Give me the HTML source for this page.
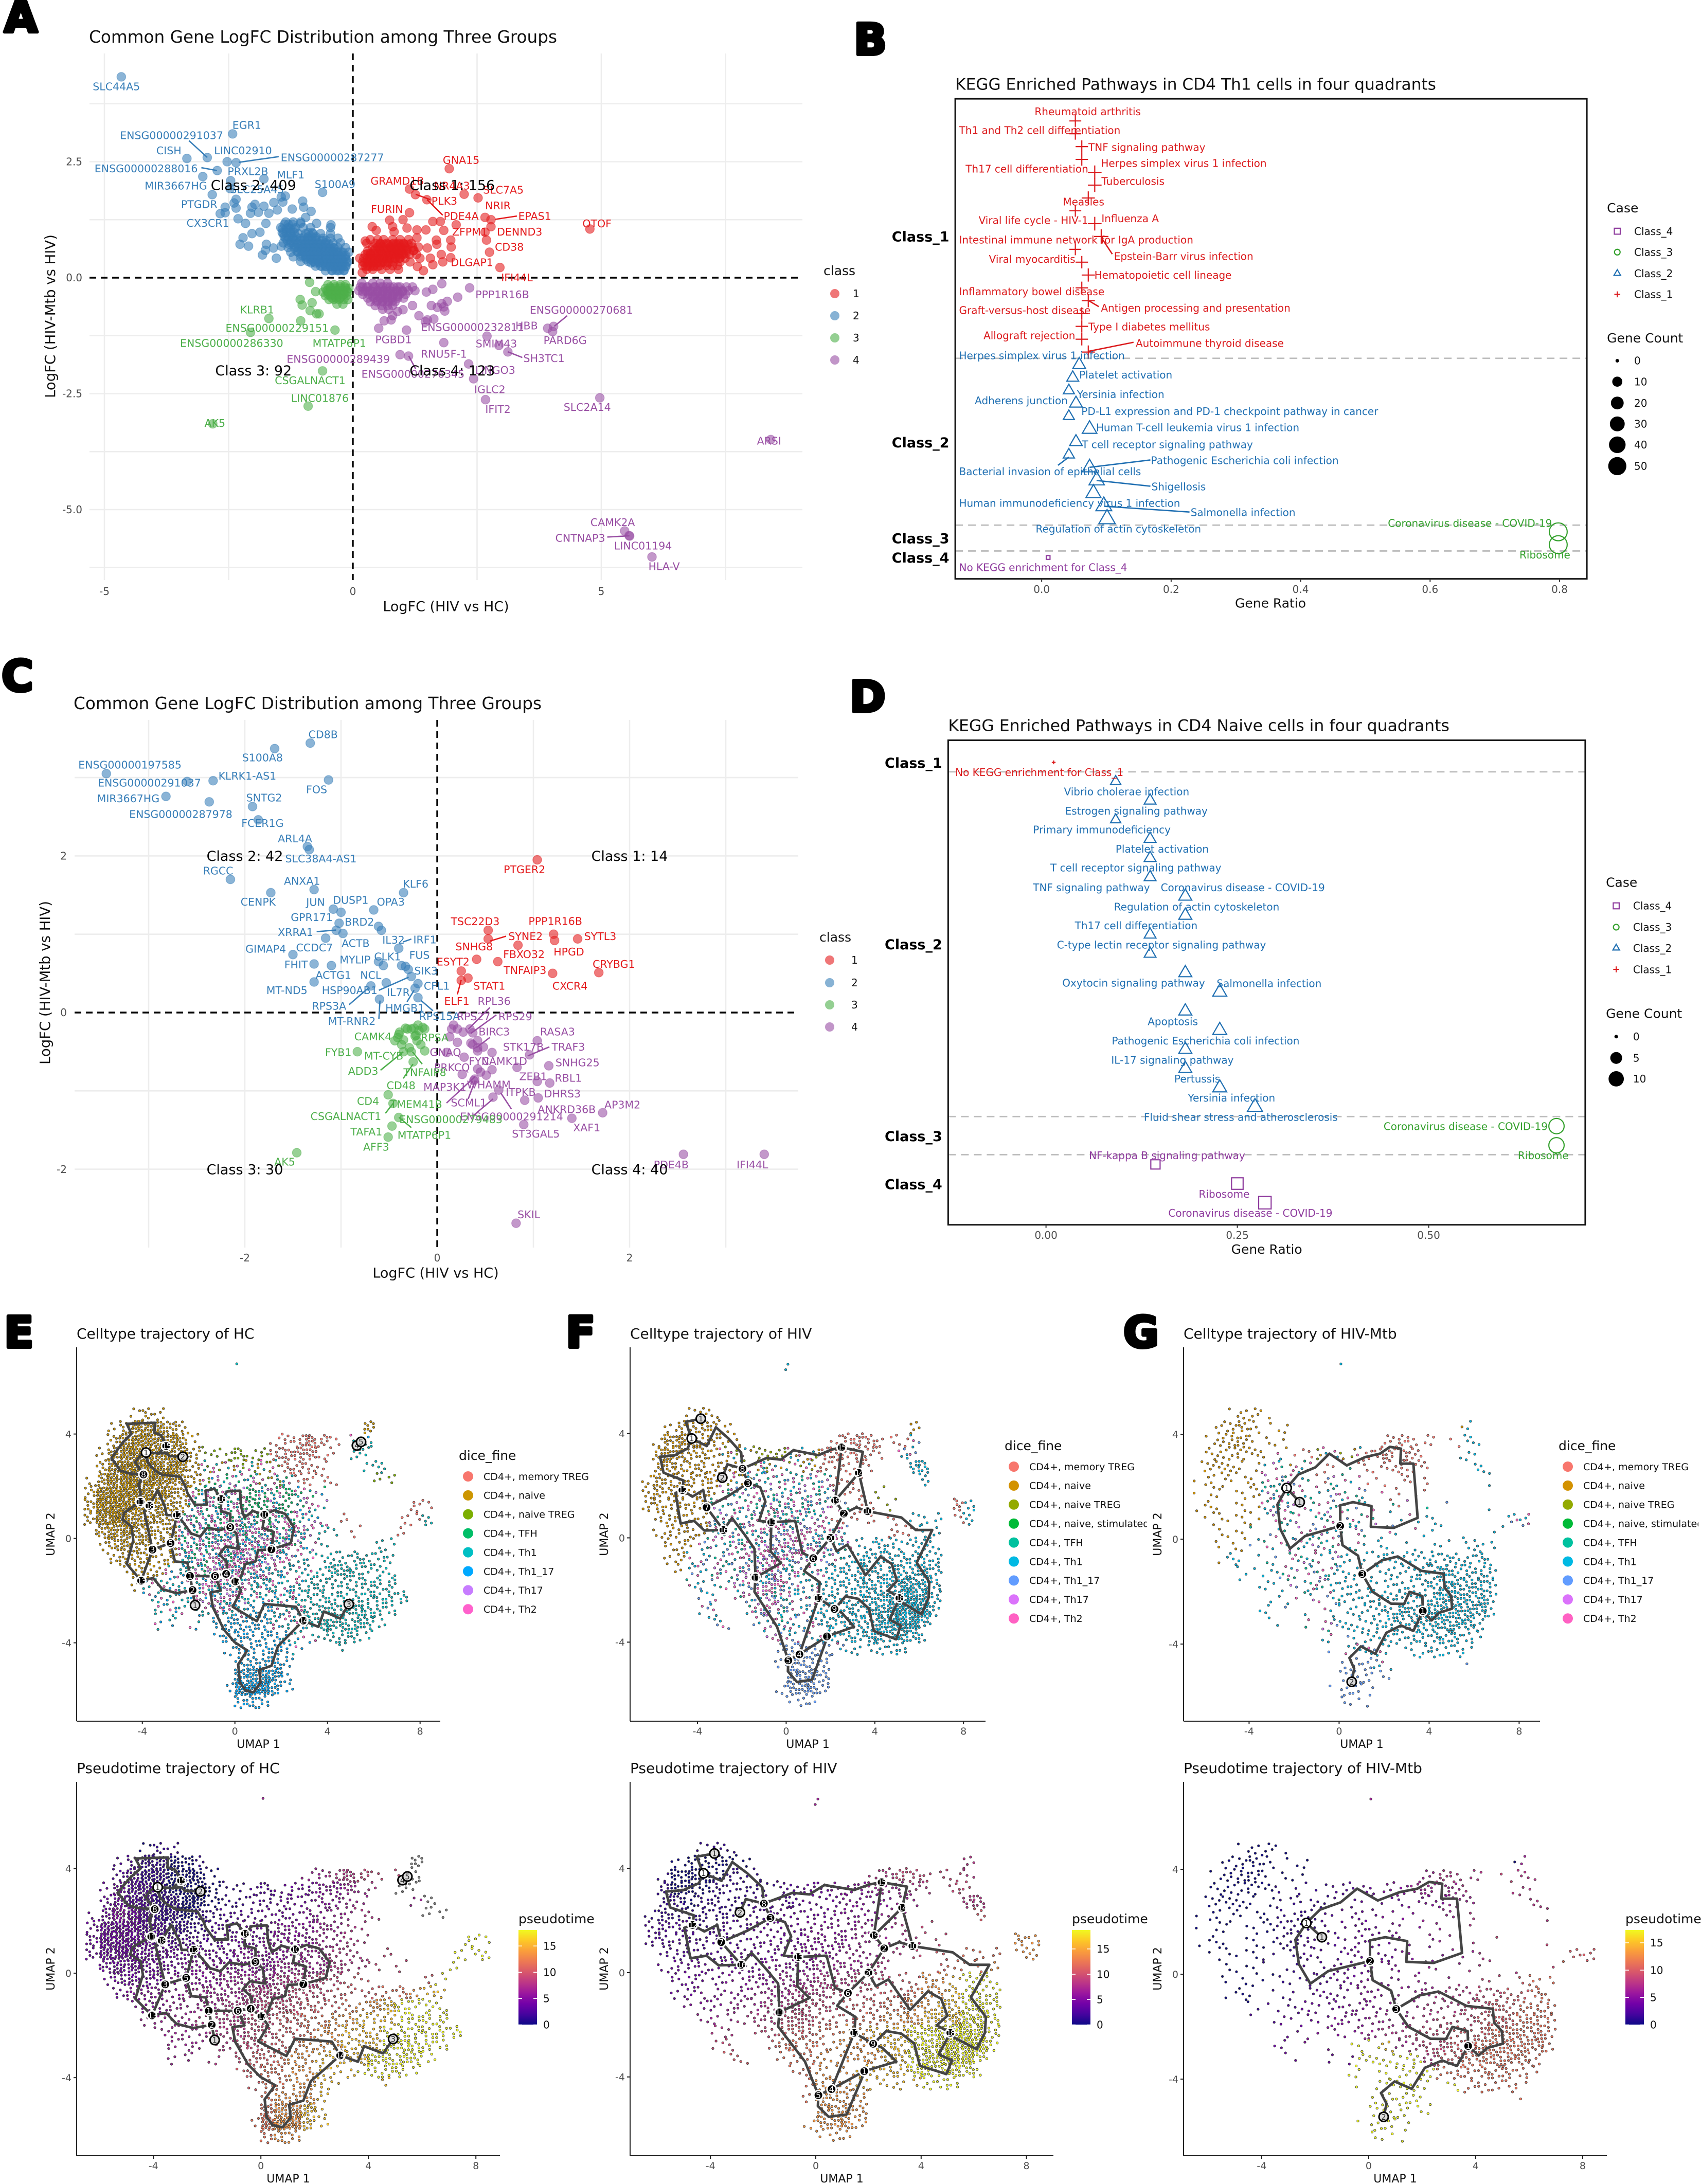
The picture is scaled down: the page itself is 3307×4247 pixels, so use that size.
<!DOCTYPE html>
<html lang="en">
<head>
<meta charset="utf-8">
<title>CD4 T cell LogFC, KEGG enrichment and trajectory figure</title>
<style>
html,body{margin:0;padding:0;background:#fff}
svg{display:block;font-family:"DejaVu Sans","Liberation Sans",sans-serif}
</style>
</head>
<body>
<svg id="figure" xmlns="http://www.w3.org/2000/svg" width="3307" height="4247" viewBox="0 0 3307 4247">
<defs>
<clipPath id="clip-f-legend"><rect x="1900" y="2780" width="330" height="420"/></clipPath>
<clipPath id="clip-g-legend"><rect x="3000" y="2780" width="302" height="420"/></clipPath>
</defs>
<rect x="0" y="0" width="3307" height="4247" fill="#ffffff"/>
</svg>
<script>
/* ---------- Panel A data: [LogFC HIV vs HC, LogFC HIV-Mtb vs HIV] ---------- */
const a1Points=[[1.94,2.35],[1.14,1.91],[1.26,1.79],[1.49,1.68],[2.24,1.80],[2.52,1.72],[1.14,1.40],[1.01,1.25],[.74,1.24],[2.66,1.30],[2.78,1.25],[2.08,1.14],[2.78,1.10],[2.66,.98],[2.69,.81],[2.75,.55],[2.96,.22],[4.77,1.05],[.39,1.10],[.47,1.02],[.80,1.10],[.83,.99],[1.09,1.07],[1.29,1.03],[1.47,1.03],[1.61,1.21],[1.76,1.21],[1.83,1.02],[1.97,.81],[1.98,.66],[1.78,.50],[1.97,.43],[1.68,.81],[1.69,.72],[1.50,.64],[1.29,.86],[1.23,.59],[1.56,.42],[1.61,.28],[1.30,.24],[1.42,.15],[1.81,.34],[.14,.42],[.19,.11],[.25,.79],[.30,.52]];
const a1Core=[[.82,.35,.5,.62,.8,.95,1.12],[.74,.28,.45,.55,.68,.82,.92,1.02,1.18],[.66,.4,.5,.6,.75,.85,.95,1.05,1.2,1.32],[.58,.3,.42,.55,.68,.78,.88,.98,1.08,1.22],[.5,.25,.36,.48,.6,.72,.82,.92,1.02,1.14,1.28],[.42,.22,.34,.44,.54,.64,.74,.84,.95,1.05,1.35],[.34,.2,.3,.4,.5,.6,.7,.82,.95,1.15],[.26,.2,.3,.42,.55,.68,.8,.9],[.18,.28,.4,.58,.75,.92],
[.72,.55,.63,.71,.79,.87,.95,1.03,1.11],[.62,.45,.53,.61,.69,.77,.85,.93,1.01,1.09],[.52,.35,.43,.51,.59,.67,.75,.83,.91,.99,1.07],[.42,.3,.38,.46,.54,.62,.7,.78,.86,.94],[.32,.24,.32,.4,.48,.56,.64,.72],[.24,.26,.34,.42,.5]];
const a2Points=[[-4.66,4.33],[-2.42,3.10],[-2.93,2.59],[-3.34,2.57],[-2.53,2.50],[-2.35,2.48],[-2.73,2.31],[-1.79,2.13],[-3.02,2.18],[-2.46,2.09],[-2.47,1.92],[-2.83,1.79],[-.61,1.84],[-2.35,1.69],[-2.39,1.61],[-2.57,1.52],[-2.35,1.50],[-2.67,1.38],[-2.57,1.40],[-2.31,1.27],[-2.16,1.17],[-2.03,1.52],[-1.97,1.58],[-1.79,1.54],[-2.06,1.39],[-1.90,1.41],[-1.75,1.17],[-1.69,1.39],[-1.52,1.46],[-1.59,1.62],[-1.44,1.74],[-1.36,1.76],[-1.41,1.63],[-1.22,1.48],[-1.01,1.65],[-.99,1.52],[-.84,1.43],[-.95,1.30],[-1.05,1.17],[-.73,1.17],[-.44,1.14],[-2.21,.86],[-2.27,.72],[-2.10,.68],[-2.03,.95],[-1.87,.98],[-1.74,.72],[-1.82,.49],[-1.54,.42],[-1.76,.59],[-1.60,.64],[-1.44,.68]];
const a2Core=[[1.2,-1.35,-1.2,-1.05],[1.08,-1.45,-1.3,-1.15,-1.0,-.85,-.45],[.95,-1.4,-1.25,-1.1,-.95,-.8,-.65,-.45],[.85,-1.35,-1.2,-1.05,-.9,-.75,-.6,-.45,-.3],[.75,-1.4,-1.25,-1.1,-.95,-.8,-.7,-.55,-.4,-.25],[.65,-1.3,-1.15,-1.0,-.9,-.8,-.7,-.6,-.5,-.4,-.3,-.15],[.55,-1.25,-1.1,-1.0,-.9,-.8,-.7,-.6,-.5,-.4,-.3,-.2,-.08],[.45,-1.2,-1.05,-.95,-.85,-.75,-.65,-.55,-.45,-.35,-.25,-.15],[.35,-1.05,-.9,-.8,-.7,-.6,-.5,-.4,-.3,-.2,-.1],[.25,-.75,-.65,-.55,-.45,-.35,-.25,-.15],[.15,-.55,-.42,-.3,-.18],
[1.15,-1.38,-1.3,-1.22],[1.05,-1.42,-1.34,-1.26,-1.18],[.97,-1.42,-1.34,-1.26,-1.18,-.9,-.82],[.88,-1.38,-1.3,-1.22,-1.14,-.98,-.9,-.82,-.74],[.8,-1.32,-1.24,-1.16,-1.06,-.98,-.9,-.82,-.74,-.62,-.54],[.72,-1.28,-1.2,-1.12,-1.04,-.96,-.88,-.8,-.72,-.64,-.56,-.48],[.64,-1.18,-1.1,-1.02,-.94,-.86,-.78,-.7,-.62,-.54,-.46,-.38],[.56,-1.12,-1.04,-.96,-.88,-.8,-.72,-.64,-.56,-.48,-.4,-.32,-.24],[.48,-1.02,-.94,-.86,-.78,-.7,-.62,-.54,-.46,-.38,-.3,-.22,-.14],[.4,-.94,-.86,-.78,-.7,-.62,-.54,-.46,-.38,-.3,-.22,-.14],[.32,-.84,-.76,-.68,-.6,-.52,-.44,-.36,-.28,-.2,-.12],[.24,-.62,-.54,-.46,-.38,-.3,-.22,-.14],[.16,-.42,-.34,-.26,-.18]];
const a3Points=[[-.87,-.10],[-1.06,-.47],[-1.02,-.59],[-.82,-.54],[-.75,-.30],[-.86,-.71],[-.73,-.78],[-.68,-.78],[-1.05,-.93],[-1.69,-.88],[-2.06,-1.18],[-.36,-1.13],[-.61,-2.01],[-.90,-2.77],[-2.82,-3.15]];
const a3Core=[[-.15,-.5,-.38,-.25,-.15],[-.23,-.55,-.45,-.35,-.25,-.15,-.08],[-.31,-.6,-.5,-.42,-.34,-.26,-.18,-.1],[-.39,-.55,-.45,-.37,-.29,-.21,-.13],[-.47,-.48,-.38,-.28,-.18,-.1],[-.57,-.32,-.2],
[-.2,-.46,-.36,-.26,-.16],[-.28,-.52,-.44,-.36,-.28,-.2,-.12],[-.36,-.5,-.42,-.34,-.26,-.18],[-.44,-.42,-.34,-.26]];
const a4Points=[[1.79,-.13],[2.35,-.22],[2.11,-.42],[1.90,-.51],[1.79,-.56],[1.58,-.60],[1.70,-.64],[1.85,-.72],[1.83,-.63],[1.48,-.31],[1.61,-.25],[1.20,-.60],[1.33,-.82],[1.46,-.95],[1.50,-.91],[1.63,-.89],[1.01,-.69],[.9,-.73],[.8,-.82],[.63,-.93],[.77,-.91],[.52,-1.09],[1.08,-1.13],[1.83,-1.40],[2.70,-1.26],[2.94,-1.46],[3.12,-1.60],[3.92,-1.09],[4.04,-1.05],[4.02,-1.16],[2.33,-1.86],[2.43,-2.18],[.95,-1.66],[1.12,-1.69],[2.67,-2.63],[4.97,-2.59],[8.41,-3.49],[5.47,-5.46],[5.57,-5.57],[5.56,-5.56],[6.02,-6.02]];
const a4Core=[[-.12,.18,.4,.55,.7],[-.2,.15,.28,.42,.55,.68,.82,.95,1.08,1.2],[-.28,.12,.25,.35,.5,.62,.75,.88,1.0,1.12,1.25],[-.36,.2,.32,.45,.58,.7,.82,.94,1.06],[-.44,.3,.42,.55,.66,.78,.9,1.02],[-.52,.35,.48,.6,.72,.85],[-.6,.45,.58,.7,.8],[-.68,.6,.72],
[-.2,.2,.3,.45,.6,.75,.9],[-.3,.2,.3,.4,.5,.6,.7,.8,.9,1.0],[-.4,.4,.5,.6,.7,.8,.9],[-.5,.5,.6,.7,.8]];
const aCountLabels=["Class 1: 156","Class 2: 409","Class 3: 92","Class 4: 123"];

/* ---------- Panel C data ---------- */
const c1Points=[[1.04,1.95],[.53,1.05],[.53,.94],[1.21,1.0],[1.22,.92],[1.46,.94],[.84,.86],[.41,.68],[.63,.65],[.25,.53],[.32,.44],[.25,.41],[1.20,.50],[1.68,.51]];
const c2Points=[[-1.32,3.44],[-1.69,3.37],[-3.44,3.05],[-2.60,2.95],[-2.33,2.96],[-1.13,2.97],[-2.82,2.76],[-2.37,2.69],[-1.92,2.63],[-1.86,2.46],[-1.35,2.12],[-1.33,2.08],[-2.15,1.70],[-1.73,1.53],[-1.28,1.57],[-.35,1.53],[-1.08,1.32],[-1.0,1.28],[-.66,1.31],[-1.02,1.14],[-.61,1.10],[-.58,1.05],[-1.05,1.05],[-.98,1.01],[-1.16,.95],[-.40,.82],[-1.50,.74],[-1.28,.62],[-1.10,.60],[-.61,.65],[-.56,.60],[-.37,.60],[-.33,.59],[-.30,.55],[-.27,.46],[-1.28,.39],[-.53,.38],[-.69,.34],[-.20,.37],[-.23,.31],[-.60,.17],[-.20,.19]];
const c3Points=[[-.83,-.50],[-1.46,-1.79],[-.51,-1.05],[-.46,-1.16],[-.40,-1.34],[-.47,-1.45],[-.51,-1.59],[-.25,-.63],[-.44,-.36],[-.39,-.25],[-.40,-.28],[-.31,-.21],[-.27,-.21],[-.20,-.16],[-.13,-.21],[-.19,-.23],[-.23,-.30],[-.21,-.36],[-.17,-.41],[-.13,-.49],[-.37,-.41],[-.35,-.50],[-.29,-.45],[-.27,-.50],[-.41,-.32],[-.33,-.20],[-.24,-.20],[-.15,-.19],[-.22,-.29],[-.35,-.35]];
const c4Points=[[.17,-.16],[.15,-.21],[.21,-.21],[.13,-.31],[.21,-.38],[.27,-.25],[.34,-.21],[.37,-.26],[.35,-.39],[.42,-.36],[.37,-.41],[.42,-.45],[.42,-.49],[.48,-.44],[.10,-.51],[.28,-.57],[.57,-.51],[1.04,-.36],[.96,-.54],[.83,-.70],[1.16,-.68],[.42,-.72],[.45,-.76],[.57,-.73],[.26,-.79],[.51,-.80],[.39,-.85],[.38,-.87],[1.04,-.88],[1.17,-.90],[.64,-.99],[.58,-1.08],[.91,-1.12],[1.05,-1.09],[1.72,-1.28],[1.40,-1.35],[.90,-1.43],[2.56,-1.81],[3.40,-1.81],[.82,-2.69]];
const cCountLabels=["Class 1: 14","Class 2: 42","Class 3: 30","Class 4: 40"];

/* ---------- Panel B data ---------- */
const bPathways=["Rheumatoid arthritis","Th1 and Th2 cell differentiation","TNF signaling pathway","Th17 cell differentiation","Herpes simplex virus 1 infection","Tuberculosis","Measles","Viral life cycle - HIV-1","Influenza A","Epstein-Barr virus infection","Intestinal immune network for IgA production","Viral myocarditis","Hematopoietic cell lineage","Inflammatory bowel disease","Antigen processing and presentation","Graft-versus-host disease","Type I diabetes mellitus","Allograft rejection","Autoimmune thyroid disease","Herpes simplex virus 1 infection","Platelet activation","Yersinia infection","Adherens junction","PD-L1 expression and PD-1 checkpoint pathway in cancer","Human T-cell leukemia virus 1 infection","T cell receptor signaling pathway","Bacterial invasion of epithelial cells","Pathogenic Escherichia coli infection","Shigellosis","Human immunodeficiency virus 1 infection","Salmonella infection","Regulation of actin cytoskeleton","Coronavirus disease - COVID-19","Ribosome","No KEGG enrichment for Class_4"];
const bClass=[1,1,1,1,1,1,1,1,1,1,1,1,1,1,1,1,1,1,1,2,2,2,2,2,2,2,2,2,2,2,2,2,3,3,4];
const bRatio=[.052,.052,.062,.062,.082,.082,.072,.052,.082,.092,.052,.062,.072,.062,.072,.062,.062,.062,.072,.058,.048,.042,.053,.042,.074,.053,.042,.074,.085,.08,.096,.101,.798,.798,.01];
const bCount=[14,14,16,16,21,21,19,14,21,24,14,16,19,16,19,16,16,16,19,13,10,8,12,8,18,12,8,18,21,20,23,25,48,48,0];
/* Panel B label placement, in reference-crop units */
const bLabelSpots=[[342,272],[203,318],[441,359],[215,412],[464,398],[465,442],[394,492],[239,537],[465,533],[488,625],[203,585],[258,632],[452,671],[203,711],[464,751],[203,757],[441,797],[248,818],[528,837],[203,867],[424,914],[420,962],[232,977],[428,1003],[455,1043],[429,1084],[203,1150],[556,1123],[557,1187],[203,1227],[629,1250],[344,1290],[992,1276],[1234,1353],[203,1384]];

/* ---------- Panel D data ---------- */
const dPathways=["No KEGG enrichment for Class_1","Vibrio cholerae infection","Estrogen signaling pathway","Primary immunodeficiency","Platelet activation","T cell receptor signaling pathway","TNF signaling pathway","Coronavirus disease - COVID-19","Regulation of actin cytoskeleton","Th17 cell differentiation","C-type lectin receptor signaling pathway","Oxytocin signaling pathway","Salmonella infection","Apoptosis","Pathogenic Escherichia coli infection","IL-17 signaling pathway","Pertussis","Yersinia infection","Fluid shear stress and atherosclerosis","Coronavirus disease - COVID-19","Ribosome","NF-kappa B signaling pathway","Ribosome","Coronavirus disease - COVID-19"];
const dClass=[1,2,2,2,2,2,2,2,2,2,2,2,2,2,2,2,2,2,2,3,3,4,4,4];
const dRatio=[.01,.091,.136,.091,.136,.136,.136,.182,.182,.136,.136,.182,.227,.182,.227,.182,.182,.227,.273,.667,.667,.143,.25,.286];
const dCount=[0,2,3,2,3,3,3,4,4,3,3,4,5,4,5,4,4,5,6,10,10,2,4,5];
const dLabelSpots=[[196,278],[396,325],[398,372],[339,418],[491,465],[371,511],[339,559],[574,559],[488,606],[416,652],[383,699],[393,792],[677,793],[550,886],[484,933],[483,980],[599,1026],[624,1072],[543,1119],[984,1142],[1231,1213],[442,1213],[644,1307],[588,1353]];

/* ---------- UMAP bins: digit = estimated density level per 0.5×0.5 UMAP bin, x from -6.5, y from 5 ---------- */
const densityHC=["....132.......................","..1477752...............4.....","..37887751......123631.12.....",".168887763112312345411.21.....",".37999887322222223321...12....","1589998753222232322111...11...","389998764333334444311.........","499987654334444443221.......21","389876554444555544321.1....112",".577654544456655554211.1...1..",".15654344445565555311....11...","..2443233445665543211223221...","...132223456665433222553221...","....12222345554432333232333...",".....12222344433333333333333...","......221124433333334455432...","......11.1.343333233555541....","...........13433322112331.....","............1333321...1.......",".............34442............",".............67762............","............189951............",".............343.............."];
const densityHIV=["....121.......................","..134431................2.....",".15653321........13431111.....",".365432221223222333321.21.....",".34333222232112222121...43....","14333321232222222111.....2....","24332222222222222111.1........","232322222223333222111.1.....32",".22222222223333221111.1.111.12",".122222222234333321...11111...","..2212122334443332211321221...","..1211122344443222223433332...","...112122345432223333334453...","....11112345422223344456653...",".....11.1234322223334567763...",".....11..133322233334678872...","......11..1222123334466884....","...........122112233455641....","............133221111222......","............14432.............",".............4553.............","............14552.............",".............121.............."];
const densityMtb=["...1332.......................","..3453112..............12.....",".24652211.......1354221131....",".33333221224223346542..121....","134322232322121223433....31...","132222343212322111222.....1...","122123343212332211211.........","131122344222332112111.1...1...",".2222213322322312111221.....34","..22211222333222121111..1.11..","..221222233332222111.22.242...","..1311122332332233333454452...","...111223233432223334576564...","....11222233333223335688775...","......111222333444546789885...",".....12.11.1223346877899974...","......11..2233334666789884....","...........121233345566642....","............1233321234332.....",".............24431......1.....",".............34321............","............1332..............",".............221.............."];
/* cell-type letter per bin: n naive, m memory TREG, o naive TREG, g TFH, t Th1, b Th1_17, p Th17/Th2; x,y,z are mixed bins */
const typeHC=["....nnn.......................",".nnnnnnnnn..............nn....",".nnnnnnnnnn.....mmmmmm.yyy....",".nnnnnnnnnoooooommmmmm.tt.....",".nnnnnnnnnzzzzzzzmmmmm..tt....","nnnnnnnnnnzxxxxzzxmmmm...oo...","nnnnnnnnnzxxxxgxxgxxx.........","nnnnnnnnnxxxxxggxgxpp.......mm","nnnnnnnnxxxxxxxxxxxpp.m.....mt","nnnnnnnnxxxxpxppxxppt.m....m..",".nnnnnnnxxxpppppppxpt....tt...","..nnnnnnyxxpxpppppyyttttttttt.","...nnnnyyxxpppppyyyyttttttttt.","....nyyyyxppppyyyyyttttttttt..",".....yyyyyppppyyyyyttttttttt..","......yyyyypyybbyyyttttttttt..","......yy.y.bbbbbyyyttttttt....","...........bbbbbbyyytttttt....","............bbbbbbyy..tt......",".............bbbbb............",".............bbbbb............","............bbbbbb............",".............bbb.............."];
const typeHIV=["....nnn.......................","..nnnnnn................nn....",".nnnnnnnn........mmmmmmmyy.....",".nnnnnnzzzooozzzmmmmmm.yy.....",".nnnnnnnzzzzzzzzmmmmm...tt....","nnnnnnnzzzxxxxxxxmmm.....t....","nnnnnnnxxxxxxxxxxxmm.o........","nnnnnnxxxxxxxxxxxxxm..o.....mt",".nnnnnxxxxxxxxxxxmmm..m.t.t.mt",".nnnnnxxxxxpppppppxx..m.mtt...","..nnnxxxxxppppppxxxtttttttttt.","..nnyyxxxppppppxxxttttttttttt.","...nyyxxxppppxxxyttttttttttt..","....xyyxxppppyyxtttttttttttt..",".....yy.xpppxxyytttttttttttt..",".....yy..xppxyyytttttttttttt..","......yy..ppxyyytttttttttt....","...........ppyyyyttttttttt....","............bbbbbyyttttt......","............bbbbb.............",".............bbbb.............","............bbbbb.............",".............bbb.............."];
const typeMtb=["...nnnn.......................","..nnnnnnnn..............tt....",".nnnnnnnnn......mmmmmmm.ttt...",".nnnnnnzzmmzzzzmmmmmm..ttt....","nnnnnnxxzxxmmxmmmmmmm....tt...","nnnnnnxxxxxmxxxmmmmmm.....t...","nnnnnnxxxxxxxxxxxmmmm.........","nnnnnnxxxxxxxxxxxxmxx.....t...",".nnnnnxxxxxxxxxxxxxxtt......yy","..nnnxxxxxxxxxxxxxxxt...t.tt..","..nnnxxxxxxxxxxttttttt..tttt..","..ntttxxxxxxxtttttttttttttttt.","...ttttxxxxxxtttttttttttttttt.","....ttttxxxxtttttttttttttttt..","......ttxxppxttttttttttttttt..",".....tt.xxpxtttttttttttttttt..","......tt..xpxttttttttttttt....","..........yyyyttttttttttttt...","............yyyyyttttttttt....",".............bbbyy............",".............bbbb.............","............bbbb..............",".............bbb.............."];
/* pseudotime level per bin: 0-9,a,b,c low to high; s = unreachable (grey) */
const pseudoHC=["....011.......................","..2211001...............ss....",".322110000......556677..ss....",".332210000112233344556.ss.....",".33221100011223334455....ss...","3343211011222333445566...ss...","333322111223334445566.........","333332222233344445566.......cc","333333333334444555666.7....ccc",".3333334444444555566677.7..c..","..3333444455556667788.....c.c.","..344445555566677788889.abbccc","...44455556667778889aabcccccc.","....55556666778899aabbbccccc..",".....555566677889aabbbcccccc..","......55.6677889aaabbbcccccc..","......55.6.7889aabbbbccccc....","...........8899aabbbcccc......","............899aabbbb...cc....",".............9aaabb...........",".............9aabb............","............99aab.............",".............9aa.............."];
const pseudoHIV=["....111.......................","..00000011..............66....",".10000111........66777776.....",".100011111223344455566677.66..",".11011112222333444455566....99","1111111222333344445556678....9","222212223333444455566778......","22222222333344445556677.....aa",".2222233333444455566778.999.aa",".3333333344445555666778999a9..","..3333444455566677788aabccc...","..3344445556667778889aabcccc..","...44455566677788899aabbccccc.","....55566677788899aaabbbcccccc",".....6677788899aabbbccccccc...",".....77.889999aaabbbcccccc....","......88..999aaaaabbcccccc....","...........99aaabbbbcccccc....","............9aaabbbbbcccc.....","............9aaaabb...........",".............aaaaab...........","............aaaaaa............",".............aaa.............."];
const pseudoMtb=["...0000.......................","..00000000..............55....",".000000001......5566667.666...",".0000011112233445555666..666..","00000011112233334445566....66.","0000001112233344455566....6...","0000001112233344455566........","00000011222333344455667...7...",".0000111222333344445566.....88","..00011122333444455566.6.7.9..","..000011223344445556677889.99.","..0001122333444555666778899999","...0122233344455566677889999a.","....22333344455566777888999aa.","......334444556677788899999999",".....33.4.3cccb56778899999999.","......3.....ccccc68899999999..","...........ccccccc999999999...","............cccccccc99999.....",".............ccccccc....9.....",".............ccccc............","............cccc..............",".............ccc.............."];
const outliersHC=[[.08,6.69]];
const outliersHIV=[[.08,6.66],[-.02,6.45]];
const outliersMtb=[[.08,6.68]];
/* dots drawn for each density level 0..9 */
const levelDotsDense=[0,3,5,7,9,11,14,17,21,25];
const levelDotsSparse=[0,1,2,4,5,6,7,9,10,11];

/* ---------- Trajectories, UMAP units ---------- */
const trajHC=[
[[-2.25,3.13],[-2.83,3.16],[-2.97,3.29],[-3.3,3.26],[-3.84,3.29]],
[[-3.3,3.26],[-2.97,3.54],[-3.19,3.96],[-3.48,4.04],[-3.45,4.43],[-4.67,4.39],[-4.47,4.01],[-4.86,3.66],[-5.33,3.08],[-4.94,2.6],[-4.55,2.49],[-3.95,2.45]],
[[-3.84,3.29],[-4.08,3.18],[-4.31,2.92],[-3.95,2.45]],
[[-3.84,3.29],[-3.77,2.92],[-3.45,2.6],[-3.14,2.44],[-2.36,2.36],[-2.13,1.96],[-2.05,1.74],[-1.73,1.29],[-1.22,1.29],[-1.27,1.83],[-.88,1.9],[-.59,1.51]],
[[-.59,1.51],[-.61,1.05],[-.2,.94],[-.2,.43]],
[[-.59,1.51],[-.33,1.8],[.22,1.83],[.27,1.21],[.41,.8],[.77,1.05],[1.27,.91]],
[[1.27,.91],[1.2,.41],[1.67,.25],[1.58,-.42]],
[[1.27,.91],[1.7,1.08],[2.17,.94],[2.56,.41],[2.41,-.18],[1.58,-.42]],
[[1.58,-.42],[1.0,-.45],[.89,-.88],[.45,-.98],[.22,-1.57],[.02,-1.65]],
[[-.2,.43],[-.64,.32],[-1.19,.41],[-1.5,.07],[-1.89,.19],[-2.28,.67],[-2.5,.89]],
[[-.2,.43],[.06,.19],[.17,-.4],[-.41,-.31],[-.67,-.61],[-.33,-.93],[-.38,-1.36]],
[[-2.5,.89],[-2.95,.89],[-3.02,1.21],[-3.34,1.85],[-3.69,1.25]],
[[-2.5,.89],[-2.78,-.18]],
[[-3.95,2.45],[-4.16,2.06],[-4.08,1.79],[-4.08,1.4]],
[[-4.08,1.4],[-4.78,.99],[-4.86,.73],[-4.47,.46],[-4.39,-.07],[-4.67,-.98],[-4.05,-1.62]],
[[-3.69,1.25],[-3.92,1.05],[-3.56,-.43],[-4.05,-1.62]],
[[-3.56,-.43],[-2.78,-.18],[-2.59,-.88],[-2.05,-.93],[-1.94,-1.44],[-.86,-1.44],[-.38,-1.36],[.02,-1.65]],
[[-1.94,-1.44],[-1.83,-1.98],[-1.72,-2.56]],
[[-4.05,-1.62],[-3.53,-1.52],[-3.14,-1.94],[-2.52,-2.1],[-1.83,-1.98]],
[[-.86,-1.44],[-.61,-2.0],[-1.06,-2.07],[-.95,-2.64],[-.48,-3.49],[-.02,-3.97],[.53,-4.29],[.14,-4.83],[.22,-5.52],[.45,-5.82],[.81,-5.9],[1.11,-5.52],[1.05,-5.04],[1.58,-4.88],[1.86,-4.13],[2.33,-3.71],[2.95,-3.15]],
[[.02,-1.65],[.27,-2.0],[-.09,-2.62],[.95,-3.17],[1.27,-2.51],[2.64,-2.62],[2.95,-3.15]],
[[2.95,-3.15],[3.61,-3.39],[3.84,-2.8],[4.55,-3.07],[4.92,-2.52]],
[[5.27,3.56],[5.45,3.70]]];
const nodesHC=[["b","15",-2.97,3.54],["b","8",-3.95,2.45],["b","16",-.59,1.51],["b","11",-4.08,1.4],["b","18",-3.69,1.25],["b","12",-2.5,.89],["b","10",1.27,.91],["b","9",-.2,.43],["b","5",-2.78,-.18],["b","3",-3.56,-.43],["b","7",1.58,-.42],["b","1",-1.94,-1.44],["b","6",-.86,-1.44],["b","4",-.38,-1.36],["b","17",.02,-1.65],["b","13",-4.05,-1.62],["b","2",-1.83,-1.98],["b","14",2.95,-3.15],["r","1",-3.84,3.29],["l","2",-2.25,3.13],["l","4",5.27,3.56],["l","5",5.45,3.70],["l","1",-1.72,-2.56],["l","3",4.92,-2.52]];
const trajHIV=[
[[-3.85,4.57],[-4.52,4.45],[-4.34,3.97],[-4.26,3.81]],
[[-4.26,3.81],[-4.44,3.43],[-5.04,3.16],[-5.69,3.11],[-5.53,2.5],[-4.63,2.2],[-4.68,1.83]],
[[-4.26,3.81],[-3.58,3.52],[-3.17,4.24],[-2.6,3.81],[-2.03,3.27],[-1.97,2.65]],
[[-2.88,2.31],[-2.65,2.82],[-1.97,2.65]],
[[-1.97,2.65],[-1.72,2.10]],
[[-1.97,2.65],[-.89,3.06],[-.24,3.0],[.33,3.36],[1.46,3.17],[2.03,3.38],[2.50,3.47]],
[[2.50,3.47],[3.46,3.3],[3.28,2.49],[3.58,1.4],[3.67,1.02]],
[[2.50,3.47],[2.21,1.43]],
[[3.28,2.49],[2.21,1.43]],
[[2.21,1.43],[2.60,.93],[3.17,1.17],[3.67,1.02]],
[[2.60,.93],[2.0,0]],
[[3.67,1.02],[5.2,.78],[5.85,.3],[6.59,.3],[5.89,-.95],[6.46,-1.7],[6.42,-2.31],[6.1,-2.93],[5.28,-2.5],[5.11,-2.31]],
[[2.0,0],[2.28,-.52],[2.76,-.26],[3.58,-1.43],[4.26,-.72],[4.76,-1.0],[5.0,-1.65],[4.6,-2.02],[5.11,-2.31]],
[[5.11,-2.31],[4.67,-3.14],[5.17,-3.36],[4.96,-3.89],[3.95,-3.57],[3.74,-2.72],[3.25,-2.34],[2.68,-2.24],[2.18,-2.73]],
[[2.18,-2.73],[2.52,-2.88],[3.06,-3.41],[1.84,-3.78]],
[[1.46,-2.31],[2.18,-2.73]],
[[1.22,-.78],[.81,-1.27],[1.51,-1.7],[1.46,-2.31]],
[[1.22,-.78],[2.0,0]],
[[1.22,-.78],[.73,-.58],[.41,.65],[-.67,.6]],
[[-.67,.6],[-.7,-.52],[-.24,-.97],[-1.38,-1.52]],
[[-1.72,2.10],[-1.17,1.94],[-.94,1.4],[-1.22,.65],[-.67,.6]],
[[-1.72,2.10],[-2.6,1.61],[-3.59,1.17]],
[[-3.59,1.17],[-3.74,1.83],[-4.23,1.58],[-4.68,1.83]],
[[-4.68,1.83],[-4.99,1.72],[-4.76,.55],[-4.15,.65],[-3.69,.28],[-2.83,.30]],
[[-3.59,1.17],[-2.83,.30]],
[[-2.83,.30],[-2.44,.76],[-1.87,.12],[-1.43,-.42],[-1.38,-1.52]],
[[-1.38,-1.52],[-1.43,-2.07],[-.41,-3.41],[.1,-4.70]],
[[.1,-4.70],[.08,-5.12],[.49,-5.53],[1.17,-5.44],[1.84,-3.84]],
[[1.84,-3.78],[.6,-4.47]],
[[.6,-4.47],[1.46,-2.31]],
[[.1,-4.70],[.6,-4.47]]];
const nodesHIV=[["b","8",-1.97,2.65],["b","3",-1.72,2.10],["b","12",-4.68,1.83],["b","7",-3.59,1.17],["b","16",-2.83,.30],["b","13",-.67,.6],["b","15",2.50,3.47],["b","14",3.28,2.49],["b","19",2.21,1.43],["b","2",2.60,.93],["b","10",3.67,1.02],["b","20",2.0,0],["b","6",1.22,-.78],["b","11",-1.38,-1.52],["b","17",1.46,-2.31],["b","9",2.18,-2.73],["b","1",1.84,-3.78],["b","4",.6,-4.47],["b","5",.1,-4.70],["b","18",5.11,-2.31],["r","1",-4.26,3.81],["l","1",-3.85,4.57],["l","2",-2.88,2.31]];
const trajMtb=[
[[-2.33,1.95],[-1.75,1.41]],
[[-2.33,1.95],[-1.82,2.46],[-1.05,2.74],[-.43,3.26],[.34,2.81],[1.16,3.13],[1.82,3.26],[2.26,3.52],[2.75,3.45],[2.72,2.88],[3.3,2.88],[3.49,.81],[2.43,.43],[1.41,.47],[1.44,1.26],[.62,1.41],[.05,1.29],[.05,.5]],
[[-2.33,1.95],[-2.74,1.32],[-2.61,.38],[-2.18,-.36],[-1.51,.12],[.05,.5]],
[[.05,.5],[.15,-.23],[.84,-.63],[1.03,-1.33]],
[[1.03,-1.33],[1.9,-.81],[2.61,-.66],[3.66,-1.21],[4.64,-1.32],[4.69,-1.85],[4.98,-2.17],[5.02,-2.65],[4.44,-2.81],[4.11,-3.1],[3.72,-2.74]],
[[1.03,-1.33],[1.49,-2.01],[2.31,-2.46],[2.89,-2.47],[3.13,-2.01],[3.7,-2.17],[3.72,-2.74]],
[[3.72,-2.74],[3.3,-3.5],[2.75,-3.29],[2.1,-3.57],[1.61,-4.37],[.97,-4.09],[.46,-4.53],[.67,-4.94],[.56,-5.44]]];
const nodesMtb=[["b","2",.05,.5],["b","3",1.03,-1.33],["b","1",3.72,-2.74],["r","1",-2.33,1.95],["l","1",-1.75,1.41],["l","2",.56,-5.44]];

const cellTypeNamesEight=["CD4+, memory TREG","CD4+, naive","CD4+, naive TREG","CD4+, TFH","CD4+, Th1","CD4+, Th1_17","CD4+, Th17","CD4+, Th2"];
const cellTypeNamesNine=["CD4+, memory TREG","CD4+, naive","CD4+, naive TREG","CD4+, naive, stimulated","CD4+, TFH","CD4+, Th1","CD4+, Th1_17","CD4+, Th17","CD4+, Th2"];

/* ---------- Drawing helpers ---------- */
const NS="http://www.w3.org/2000/svg";
const root=document.getElementById("figure");
const defs=root.querySelector("defs");
const FONT_DARK="#4d4d4d";
const SET1={1:"#E41A1C",2:"#377EB8",3:"#4DAF4A",4:"#984EA3"};
const KEGGCOL={1:"#DB1A1C",2:"#1F6FB2",3:"#33A02C",4:"#8E3A9D"};

function add(parent,tag,attrs,name){
  const el=document.createElementNS(NS,tag);
  for(const k in attrs)el.setAttribute(k,attrs[k]);
  
  
  parent.appendChild(el);
  return el;
}
function txt(parent,x,y,str,size,fill,anchor,name,extra){
  const attrs=Object.assign({x:x,y:y,dy:".36em","font-size":size,fill:fill,"text-anchor":anchor||"start"},extra||{});
  const el=add(parent,"text",attrs,name);
  el.textContent=str;
  return el;
}
function panelLetter(ch,x,y){
  const el=add(root,"text",{x:x,y:y,"font-size":84,"font-weight":"bold",fill:"#000",stroke:"#000","stroke-width":6,"stroke-linejoin":"round"},"panel-letter-"+ch.toLowerCase());
  el.textContent=ch;
}
function slug(s){return s.toLowerCase().replace(/[^a-z0-9]+/g,"-").replace(/^-|-$/g,"");}

/* ---------- Volcano-style panels ---------- */
function volcano(cfg){
  const g=add(root,"g",{},cfg.name);
  const X=v=>cfg.x0+v*cfg.xu, Y=v=>cfg.y0-v*cfg.yu;
  const zx=z=>z*1650/1568, zy=z=>cfg.top0+z*1250/1568;
  cfg.gridX.forEach(v=>{
    const l=add(g,"line",{x1:X(v),x2:X(v),y1:cfg.top,y2:cfg.bottom,stroke:"#ededed","stroke-width":2.6},"grid-vertical");
  });
  cfg.gridY.forEach(v=>{
    const l=add(g,"line",{x1:cfg.left,x2:cfg.right,y1:Y(v),y2:Y(v),stroke:"#ededed","stroke-width":2.6},"grid-horizontal");
  });
  cfg.tickX.forEach(v=>txt(g,X(v),cfg.tickXY,String(v),20,FONT_DARK,"middle","x-tick-label"));
  cfg.tickY.forEach(v=>txt(g,cfg.tickYX,Y(v),cfg.fmtY(v),20,FONT_DARK,"end","y-tick-label"));
  txt(g,cfg.titleX,cfg.titleY,"Common Gene LogFC Distribution among Three Groups",32.7,"#111","start","panel-title");
  txt(g,cfg.xtX,cfg.xtY,"LogFC (HIV vs HC)",27,"#111","middle","x-axis-title");
  txt(g,cfg.ytX,cfg.ytY,"LogFC (HIV-Mtb vs HIV)",27.5,"#111","middle","y-axis-title",{transform:"rotate(-90 "+cfg.ytX+" "+cfg.ytY+")"});
  cfg.series.forEach((s,i)=>{
    const cls=i+1;
    const sg=add(g,"g",{fill:SET1[cls],"fill-opacity":.58,stroke:SET1[cls],"stroke-opacity":.45,"stroke-width":1.4},"class-"+cls+"-points");
    s.points.forEach(p=>add(sg,"circle",{cx:X(p[0]),cy:Y(p[1]),r:cfg.r},"gene-point"));
    (s.core||[]).forEach(row=>{
      for(let k=1;k<row.length;k++)add(sg,"circle",{cx:X(row[k]),cy:Y(row[0]),r:cfg.r},"gene-point");
    });
  });
  add(g,"line",{x1:cfg.left,x2:cfg.right,y1:Y(0),y2:Y(0),stroke:"#000","stroke-width":3.4,"stroke-dasharray":"13 9"},"horizontal-zero-line");
  add(g,"line",{x1:X(0),x2:X(0),y1:cfg.top,y2:cfg.bottom,stroke:"#000","stroke-width":3.4,"stroke-dasharray":"13 9"},"vertical-zero-line");
  cfg.leaders.forEach(s=>add(g,"line",{x1:zx(s[1]),y1:zy(s[2]),x2:zx(s[3]),y2:zy(s[4]),stroke:SET1[s[0]],"stroke-width":2.6},"label-leader"));
  cfg.labels.forEach(s=>txt(g,zx(s[1]),zy(s[2]),s[0],20.5,SET1[s[3]],"middle","gene-label-"+slug(s[0])));
  const q=[[2,2],[-2,2],[-2,-2],[2,-2]];
  cfg.counts.forEach((c,i)=>txt(g,X(q[i][0]),Y(q[i][1]),c,27,"#000","middle","quadrant-count"));
  txt(g,cfg.legX,cfg.legTitleY,"class",25,"#111","start","legend-title");
  [1,2,3,4].forEach((c,i)=>{
    add(g,"circle",{cx:cfg.legDotX,cy:cfg.legY[i],r:9,fill:SET1[c],"fill-opacity":.6},"legend-key-class-"+c);
    txt(g,cfg.legTextX,cfg.legY[i],String(c),20,"#111","start","legend-label-class-"+c);
  });
}

volcano({name:"panel-a-volcano",x0:686,xu:96.6,y0:540,yu:90.2,left:174,right:1560,top:104,bottom:1128,top0:0,r:8.6,
  gridX:[-5,-2.5,2.5,5,7.5],gridY:[3.75,2.5,1.25,-1.25,-2.5,-3.75,-5,-6.25],
  tickX:[-5,0,5],tickY:[2.5,0,-2.5,-5],fmtY:v=>v.toFixed(1),tickXY:1150,tickYX:160,
  titleX:173,titleY:71,xtX:867,xtY:1179,ytX:97,ytY:615,
  series:[{points:a1Points,core:a1Core},{points:a2Points,core:a2Core},{points:a3Points,core:a3Core},{points:a4Points,core:a4Core}],
  counts:aCountLabels,legX:1601,legTitleY:526,legDotX:1623,legTextX:1658,legY:[571,614,657,700],
  leaders:[[2,349,343,383,384],[2,441,396,515,382],[2,372,409,401,416],[1,768,474,795,487],[1,789,487,818,525],[1,915,535,955,527],[4,1024,796,1048,770],[4,938,858,965,872],[4,755,868,768,900],[4,1122,1310,1163,1307]],
  labels:[["SLC44A5",215,211,2],["EGR1",456,305,2],["ENSG00000291037",317,330,2],["CISH",312,367,2],["LINC02910",449,367,2],["ENSG00000287277",614,384,2],["ENSG00000288016",270,411,2],["PRXL2B",458,418,2],["MLF1",537,426,2],["MIR3667HG",325,453,2],["SLC25A45",475,462,2],["S100A9",619,449,2],["PTGDR",368,498,2],["CX3CR1",384,544,2],
  ["GNA15",852,390,1],["GRAMD1B",734,441,1],["NR4A3",835,453,1],["SLC7A5",930,463,1],["PLK3",821,490,1],["NRIR",920,501,1],["FURIN",715,510,1],["PDE4A",852,527,1],["EPAS1",988,527,1],["OTOF",1103,545,1],["ZFPM1",868,565,1],["DENND3",960,565,1],["CD38",941,602,1],["DLGAP1",872,640,1],["IFI44L",955,677,1],
  ["KLRB1",475,755,3],["ENSG00000229151",512,800,3],["ENSG00000286330",428,837,3],["MTATP6P1",627,837,3],["CSGALNACT1",573,928,3],["LINC01876",591,971,3],["AK5",397,1032,3],
  ["PPP1R16B",928,718,4],["ENSG00000270681",1074,756,4],["HBB",973,794,4],["ENSG00000232811",873,798,4],["PARD6G",1044,830,4],["PGBD1",727,828,4],["SMIM43",917,838,4],["RNU5F-1",820,863,4],["SH3TC1",1005,874,4],["ENSG00000289439",625,876,4],["ENSG00000276345",763,912,4],["LINGO3",915,903,4],["IGLC2",905,950,4],["IFIT2",920,998,4],["SLC2A14",1085,993,4],["ARSI",1421,1075,4],["CAMK2A",1132,1274,4],["CNTNAP3",1072,1312,4],["LINC01194",1188,1331,4],["HLA-V",1227,1381,4]]
});

volcano({name:"panel-c-volcano",x0:850,xu:187,y0:1969,yu:152.3,left:145,right:1552,top:1400,bottom:2426,top0:1280,r:8.6,
  gridX:[-3,-2,-1,1,2,3],gridY:[3,2,1,-1,-2],
  tickX:[-2,0,2],tickY:[2,0,-2],fmtY:v=>String(v),tickXY:2446,tickYX:130,
  titleX:143,titleY:1367,xtX:847,xtY:2475,ytX:87,ytY:1911,
  series:[{points:c1Points},{points:c2Points},{points:c3Points},{points:c4Points}],
  counts:cCountLabels,legX:1593,legTitleY:1822,legDotX:1613,legTextX:1655,legY:[1867,1911,1954,1997],
  leaders:[[2,585,667,621,663],[2,745,692,760,685],[2,700,810,755,778],[2,645,845,680,805],[2,700,880,702,835],[2,752,838,765,810],[2,778,835,800,860],[1,905,690,935,678],[1,845,820,852,785],[4,865,905,905,852],[4,870,915,917,870],[4,880,950,905,925],[4,975,970,1015,948],[4,825,1085,878,1020],[4,865,1075,878,1030],[4,875,1115,911,1075],[4,945,1100,925,1060],[3,703,1005,745,960],[3,745,1025,763,990],[3,780,990,762,960],[3,712,1110,727,1085],[3,760,1145,737,1120]],
  labels:[["CD8B",597,186,2],["S100A8",485,242,2],["ENSG00000197585",240,260,2],["KLRK1-AS1",457,287,2],["ENSG00000291037",276,304,2],["FOS",585,320,2],["MIR3667HG",237,342,2],["SNTG2",488,340,2],["ENSG00000287978",334,380,2],["FCER1G",485,402,2],["ARL4A",545,440,2],["SLC38A4-AS1",593,489,2],["RGCC",403,518,2],["ANXA1",558,543,2],["KLF6",768,550,2],["CENPK",477,594,2],["JUN",583,595,2],["DUSP1",648,590,2],["OPA3",722,594,2],["GPR171",576,632,2],["BRD2",664,643,2],["XRRA1",546,668,2],["IL32",727,687,2],["IRF1",785,686,2],["ACTB",657,695,2],["GIMAP4",491,709,2],["CCDC7",581,706,2],["MYLIP",656,735,2],["CLK1",716,728,2],["FUS",775,724,2],["FHIT",547,747,2],["SIK3",787,762,2],["ACTG1",616,773,2],["NCL",685,773,2],["CFL1",807,799,2],["MT-ND5",530,810,2],["HSP90AB1",646,810,2],["IL7R",736,815,2],["RPS3A",608,848,2],["HMGB1",748,853,2],["RPS15A",812,873,2],["MT-RNR2",650,885,2],
  ["PTGER2",969,515,1],["TSC22D3",878,642,1],["PPP1R16B",1026,641,1],["SYNE2",971,678,1],["SYTL3",1109,678,1],["SNHG8",876,703,1],["HPGD",1051,716,1],["FBXO32",968,722,1],["ESYT2",837,740,1],["CRYBG1",1134,746,1],["TNFAIP3",970,761,1],["STAT1",904,799,1],["CXCR4",1053,799,1],["ELF1",844,836,1],
  ["RPL36",913,836,4],["RPS27",875,874,4],["RPS29",952,874,4],["BIRC3",913,911,4],["RASA3",1030,911,4],["STK17B",967,948,4],["TRAF3",1050,948,4],["GNAQ",823,961,4],["FYN",885,983,4],["CAMK1D",932,983,4],["SNHG25",1067,986,4],["PRKCQ",835,998,4],["ZEB1",985,1020,4],["RBL1",1050,1024,4],["MAP3K1",822,1046,4],["WHAMM",903,1040,4],["ITPKB",962,1058,4],["DHRS3",1039,1062,4],["SCML1",866,1084,4],["ANKRD36B",1047,1100,4],["AP3M2",1150,1089,4],["ENSG00000291214",945,1118,4],["XAF1",1084,1145,4],["ST3GAL5",990,1160,4],["PDE4B",1240,1235,4],["IFI44L",1390,1235,4],["SKIL",977,1357,4],
  ["RPSA",803,925,3],["CAMK4",689,923,3],["FYB1",625,961,3],["MT-CYB",709,970,3],["ADD3",671,1007,3],["TNFAIP8",785,1010,3],["CD48",741,1042,3],["CD4",680,1080,3],["TMEM41B",769,1088,3],["CSGALNACT1",639,1117,3],["ENSG00000279483",833,1125,3],["TAFA1",677,1155,3],["MTATP6P1",784,1163,3],["AFF3",695,1192,3],["AK5",526,1228,3]]
});

/* ---------- KEGG panels ---------- */
function shape(g,cls,x,y,r,name,fill){
  const col=KEGGCOL[cls];
  const f=fill?col:"none";
  if(cls===1){
    const d=r*1.05;
    add(g,"path",{d:"M"+(x-d)+" "+y+"H"+(x+d)+"M"+x+" "+(y-d)+"V"+(y+d),stroke:col,"stroke-width":2.2,fill:"none"},name);
  }else if(cls===2){
    const w=r*1.18;
    add(g,"polygon",{points:x+","+(y-w*1.15)+" "+(x-w)+","+(y+w*.58)+" "+(x+w)+","+(y+w*.58),stroke:col,"stroke-width":2.2,fill:f},name);
  }else if(cls===3){
    add(g,"circle",{cx:x,cy:y,r:r,stroke:col,"stroke-width":2.2,fill:f},name);
  }else{
    const d=r*1.05;
    add(g,"rect",{x:x-d,y:y-d,width:2*d,height:2*d,stroke:col,"stroke-width":2.2,fill:f},name);
  }
}
function kegg(cfg){
  const g=add(root,"g",{},cfg.name);
  const zx=z=>1650+z*1657/1568, zy=z=>cfg.top0+z*1250/1568;
  const X=v=>zx(cfg.zero+v*cfg.unit);
  const rowY=i=>zy(cfg.row0+i*cfg.rowStep);
  const R=c=>3.5+cfg.sizeK*Math.sqrt(c);
  txt(g,zx(cfg.frame[0]),zy(cfg.titleZ),cfg.title,cfg.titleSize,"#111","start","panel-title");
  cfg.dashes.forEach(d=>add(g,"line",{x1:zx(cfg.frame[0]),x2:zx(cfg.frame[1]),y1:zy(d),y2:zy(d),stroke:"#bdbdbd","stroke-width":2.8,"stroke-dasharray":"15 10"},"class-separator"));
  add(g,"rect",{x:zx(cfg.frame[0]),y:zy(cfg.frame[2]),width:zx(cfg.frame[1])-zx(cfg.frame[0]),height:zy(cfg.frame[3])-zy(cfg.frame[2]),fill:"none",stroke:"#111","stroke-width":3},"plot-frame");
  cfg.classLabels.forEach(l=>txt(g,zx(cfg.frame[0]-11),zy(l[1]),l[0],27,"#000","end","class-axis-label-"+slug(l[0]),{"font-weight":"bold"}));
  cfg.ticks.forEach(t=>{
    add(g,"line",{x1:X(t[0]),x2:X(t[0]),y1:zy(cfg.frame[3]),y2:zy(cfg.frame[3])+6,stroke:"#333","stroke-width":2},"x-tick");
    txt(g,X(t[0]),zy(cfg.tickZ),t[1],20,FONT_DARK,"middle","x-tick-label");
  });
  txt(g,zx(cfg.axisTitle[0]),zy(cfg.axisTitle[1]),"Gene Ratio",25,"#111","middle","x-axis-title");
  cfg.ratio.forEach((v,i)=>shape(g,cfg.cls[i],X(v),rowY(i),R(cfg.count[i]),"pathway-point-"+slug(cfg.names[i]),false));
  cfg.leaders.forEach(s=>add(g,"line",{x1:zx(s[1]),y1:zy(s[2]),x2:zx(s[3]),y2:zy(s[4]),stroke:KEGGCOL[s[0]],"stroke-width":2.6},"label-leader"));
  cfg.names.forEach((n,i)=>txt(g,zx(cfg.spots[i][0]),zy(cfg.spots[i][1]),n,20,KEGGCOL[cfg.cls[i]],"start","pathway-label-"+slug(n)));
  txt(g,zx(cfg.legX),zy(cfg.caseTitle),"Case",25,"#111","start","case-legend-title");
  [4,3,2,1].forEach((c,i)=>{
    shape(g,c,zx(cfg.legX+19),zy(cfg.caseY[i]),5.5,"case-legend-key-"+c,false);
    txt(g,zx(cfg.legX+50),zy(cfg.caseY[i]),"Class_"+c,20,"#111","start","case-legend-label-"+c);
  });
  txt(g,zx(cfg.legX),zy(cfg.countTitle),"Gene Count",25,"#111","start","count-legend-title");
  cfg.countLegend.forEach((c,i)=>{
    add(g,"circle",{cx:zx(cfg.legX+19),cy:zy(cfg.countY[i]),r:R(c),fill:"#000"},"count-legend-key-"+c);
    txt(g,zx(cfg.legX+50),zy(cfg.countY[i]),String(c),20,"#111","start","count-legend-label-"+c);
  });
}
kegg({name:"panel-b-kegg",top0:0,title:"KEGG Enriched Pathways in CD4 Th1 cells in four quadrants",titleSize:31.2,titleZ:205,
  frame:[196,1358,241,1412],zero:355,unit:1191,row0:295,rowStep:31.32,sizeK:2,
  names:bPathways,cls:bClass,ratio:bRatio,count:bCount,spots:bLabelSpots,dashes:[874,1281,1344],
  classLabels:[["Class_1",577],["Class_2",1079],["Class_3",1313],["Class_4",1360]],
  ticks:[[0,"0.0"],[.2,"0.2"],[.4,"0.4"],[.6,"0.6"],[.8,"0.8"]],tickZ:1437,axisTitle:[776,1471],
  leaders:[[1,465,580,485,620],[1,441,733,460,748],[1,441,857,524,835],[2,405,1115,385,1135],[2,443,1140,555,1122],[2,456,1172,555,1186],[2,470,1235,627,1249]],
  legX:1395,caseTitle:507,caseY:[564,615,667,718],countTitle:824,countLegend:[0,10,20,30,40,50],countY:[880,931,983,1034,1085,1137]});
kegg({name:"panel-d-kegg",top0:1280,title:"KEGG Enriched Pathways in CD4 Naive cells in four quadrants",titleSize:31.5,titleZ:163,
  frame:[183,1355,200,1382],zero:363,unit:1408,row0:254,rowStep:46.7,sizeK:3.6,
  names:dPathways,cls:dClass,ratio:dRatio,count:dCount,spots:dLabelSpots,dashes:[277,1118,1211],
  classLabels:[["Class_1",255],["Class_2",698],["Class_3",1166],["Class_4",1283]],
  ticks:[[0,"0.00"],[.25,"0.25"],[.5,"0.50"]],tickZ:1407,axisTitle:[769,1441],leaders:[],
  legX:1393,caseTitle:546,caseY:[604,656,707,759],countTitle:866,countLegend:[0,5,10],countY:[923,975,1026]});

/* ---------- UMAP panels ---------- */
const PAL_E={m:"#F8766D",n:"#CD9600",o:"#7CAE00",g:"#00BE67",t:"#00BFC4",b:"#00A9FF",r:"#C77CFF",h:"#FF61CC"};
const PAL_F={m:"#F8766D",n:"#D39200",o:"#93AA00",s:"#00BA38",g:"#00C19F",t:"#00B9E3",b:"#619CFF",r:"#DB72FB",h:"#FF61C3"};
const MIX={x:"thgthrgb",y:"tbth",z:"othn",p:"hrthb"};
const PLASMA={"0":"#0D0887","1":"#350498","2":"#5302A3","3":"#6F00A8","4":"#8B0AA5","5":"#A31E9A","6":"#B93289","7":"#CC4678","8":"#DB5C68","9":"#E97158","a":"#F89540","b":"#FDC328","c":"#F0F921","s":"#7f7f7f"};
const PLASMA_STOPS=["#0D0887","#47039F","#7301A8","#9C179E","#BD3786","#D8576B","#ED7953","#FA9E3B","#FDC926","#F0F921"];

function gridChar(grid,r,c){
  const row=grid[r]||"";
  for(let k=c;k>=0;k--){const ch=row[k];if(ch&&ch!==".")return ch;}
  for(let k=c;k<row.length;k++){const ch=row[k];if(ch&&ch!==".")return ch;}
  return null;
}
function umap(cfg){
  const g=add(root,"g",{},cfg.name);
  const X=v=>cfg.x0+v*cfg.xu, Y=v=>cfg.y0-v*cfg.yu;
  const colorAt=(r,c,n)=>{
    const ch=gridChar(cfg.colors,r,c);
    if(cfg.mode==="pseudo")return PLASMA[ch]||"#7f7f7f";
    let t=ch;
    if(MIX[ch]){const m=MIX[ch];t=m[n%m.length];}
    return cfg.palette[t]||"#888";
  };
  txt(g,cfg.left,cfg.titleY,cfg.title,28,"#111","start","panel-title");
  add(g,"line",{x1:cfg.left,x2:cfg.left,y1:cfg.top,y2:cfg.bottom,stroke:"#222","stroke-width":2},"y-axis-line");
  add(g,"line",{x1:cfg.left,x2:cfg.right,y1:cfg.bottom,y2:cfg.bottom,stroke:"#222","stroke-width":2},"x-axis-line");
  [-4,0,4,8].forEach(v=>{
    add(g,"line",{x1:X(v),x2:X(v),y1:cfg.bottom,y2:cfg.bottom+6,stroke:"#222","stroke-width":2},"x-tick");
    txt(g,X(v),cfg.bottom+19,String(v),19,FONT_DARK,"middle","x-tick-label");
  });
  [-4,0,4].forEach(v=>{
    add(g,"line",{x1:cfg.left-6,x2:cfg.left,y1:Y(v),y2:Y(v),stroke:"#222","stroke-width":2},"y-tick");
    txt(g,cfg.left-10,Y(v),String(v),19,FONT_DARK,"end","y-tick-label");
  });
  txt(g,(cfg.left+cfg.right)/2,cfg.bottom+44,"UMAP 1",22,"#111","middle","x-axis-title");
  const ytx=cfg.left-51, yty=(cfg.top+cfg.bottom)/2;
  txt(g,ytx,yty,"UMAP 2",22,"#111","middle","y-axis-title",{transform:"rotate(-90 "+ytx+" "+yty+")"});
  const dots=add(g,"g",{stroke:"#3a3a3a","stroke-width":.9},"cell-points");
  let n=0;
  cfg.density.forEach((row,r)=>{
    for(let c=0;c<row.length;c++){
      const d=row[c]==="."?0:parseInt(row[c],10);
      const cnt=cfg.levels[d];
      for(let k=0;k<cnt;k++){
        n++;
        const u=(0.5+n*0.7548776662)%1, v=(0.5+n*0.5698402910)%1;
        const ux=-6.5+(c+u)*0.5, uy=5-(r+v)*0.5;
        add(dots,"circle",{cx:X(ux).toFixed(1),cy:Y(uy).toFixed(1),r:2.2,fill:colorAt(r,c,n)},"cell-point");
      }
    }
  });
  cfg.outliers.forEach(p=>add(dots,"circle",{cx:X(p[0]),cy:Y(p[1]),r:2.2,fill:cfg.mode==="pseudo"?PLASMA["5"]:cfg.palette.t},"cell-point"));
  const tg=add(g,"g",{fill:"none",stroke:"#444","stroke-width":5,"stroke-linejoin":"round","stroke-linecap":"round"},"trajectory");
  cfg.traj.forEach(path=>add(tg,"polyline",{points:path.map(p=>X(p[0]).toFixed(1)+","+Y(p[1]).toFixed(1)).join(" ")},"trajectory-branch"));
  cfg.nodes.forEach(nd=>{
    const x=X(nd[2]),y=Y(nd[3]);
    const small=nd[1].length>1;
    if(nd[0]==="b"){
      add(g,"circle",{cx:x,cy:y,r:9,fill:"#000",stroke:"#fff","stroke-width":3},"branch-node");
      txt(g,x,y,nd[1],16,"#fff","middle","branch-node-number",small?{"letter-spacing":"-2"}:{});
    }else{
      add(g,"circle",{cx:x,cy:y,r:9,fill:nd[0]==="r"?"#fff":"#dcdcdc",stroke:"#000","stroke-width":3},nd[0]==="r"?"root-node":"leaf-node");
      txt(g,x,y,nd[1],15,"#222","middle",nd[0]==="r"?"root-node-number":"leaf-node-number");
    }
  });
  if(cfg.legend){
    const lg=add(g,"g",cfg.legend.clip?{"clip-path":"url(#"+cfg.legend.clip+")"}:{},"celltype-legend");
    txt(lg,cfg.legend.x,cfg.legend.titleY,"dice_fine",25,"#111","start","legend-title");
    cfg.legend.names.forEach((nm,i)=>{
      const yy=cfg.legend.y+i*36.9;
      add(lg,"circle",{cx:cfg.legend.x+18,cy:yy,r:10,fill:cfg.legend.colors[i]},"legend-key-"+slug(nm));
      txt(lg,cfg.legend.x+48,yy,nm,19,"#111","start","legend-label-"+slug(nm));
    });
  }
  if(cfg.bar){
    const b=cfg.bar, id="plasma-"+cfg.name;
    const lgd=add(defs,"linearGradient",{id:id,x1:0,y1:1,x2:0,y2:0},"plasma-gradient");
    PLASMA_STOPS.forEach((c,i)=>add(lgd,"stop",{offset:(i/(PLASMA_STOPS.length-1)),"stop-color":c},"plasma-stop"));
    const lgG=add(g,"g",{},"pseudotime-colorbar");
    txt(lgG,b.x,3731,"pseudotime",25,"#111","start","colorbar-title");
    add(lgG,"rect",{x:b.x,y:3753,width:36,height:184,fill:"url(#"+id+")"},"colorbar-ramp");
    const BY=v=>3937.5-v*184/b.max;
    [0,5,10,15].forEach(v=>{
      add(lgG,"line",{x1:b.x,x2:b.x+7,y1:BY(v),y2:BY(v),stroke:"#fff","stroke-width":1.5},"colorbar-tick");
      add(lgG,"line",{x1:b.x+29,x2:b.x+36,y1:BY(v),y2:BY(v),stroke:"#fff","stroke-width":1.5},"colorbar-tick");
      txt(lgG,b.x+48,BY(v),String(v),20,"#111","start","colorbar-label");
    });
  }
}
const ETYPE=["#F8766D","#CD9600","#7CAE00","#00BE67","#00BFC4","#00A9FF","#C77CFF","#FF61CC"];
const FTYPE=["#F8766D","#D39200","#93AA00","#00BA38","#00C19F","#00B9E3","#619CFF","#DB72FB","#FF61C3"];
umap({name:"panel-e-celltype-hc",title:"Celltype trajectory of HC",mode:"type",palette:PAL_E,density:densityHC,colors:typeHC,levels:levelDotsDense,outliers:outliersHC,traj:trajHC,nodes:nodesHC,
  x0:456.7,xu:45,y0:2991.6,yu:50.75,left:149,right:856,top:2620,bottom:3347,titleY:2593,
  legend:{x:892,titleY:2830,y:2871,names:cellTypeNamesEight,colors:ETYPE}});
umap({name:"panel-f-celltype-hiv",title:"Celltype trajectory of HIV",mode:"type",palette:PAL_F,density:densityHIV,colors:typeHIV,levels:levelDotsDense,outliers:outliersHIV,traj:trajHIV,nodes:nodesHIV,
  x0:1528.4,xu:43.1,y0:2990.5,yu:50.7,left:1225,right:1916,top:2620,bottom:3347,titleY:2593,
  legend:{x:1953,titleY:2811,y:2852,names:cellTypeNamesNine,colors:FTYPE,clip:"clip-f-legend"}});
umap({name:"panel-g-celltype-hiv-mtb",title:"Celltype trajectory of HIV-Mtb",mode:"type",palette:PAL_F,density:densityMtb,colors:typeMtb,levels:levelDotsSparse,outliers:outliersMtb,traj:trajMtb,nodes:nodesMtb,
  x0:2603.4,xu:43.75,y0:2993,yu:51,left:2301,right:2994,top:2620,bottom:3347,titleY:2593,
  legend:{x:3030,titleY:2811,y:2852,names:cellTypeNamesNine,colors:FTYPE,clip:"clip-g-legend"}});
umap({name:"panel-e-pseudotime-hc",title:"Pseudotime trajectory of HC",mode:"pseudo",density:densityHC,colors:pseudoHC,levels:levelDotsDense,outliers:outliersHC,traj:trajHC,nodes:nodesHC,
  x0:507.2,xu:52.25,y0:3837,yu:50.8,left:149,right:972,top:3465,bottom:4192,titleY:3438,bar:{x:1008,max:18}});
umap({name:"panel-f-pseudotime-hiv",title:"Pseudotime trajectory of HIV",mode:"pseudo",density:densityHIV,colors:pseudoHIV,levels:levelDotsDense,outliers:outliersHIV,traj:trajHIV,nodes:nodesHIV,
  x0:1586,xu:51.2,y0:3836,yu:50.7,left:1225,right:2048,top:3465,bottom:4192,titleY:3438,bar:{x:2084,max:18.7}});
umap({name:"panel-g-pseudotime-hiv-mtb",title:"Pseudotime trajectory of HIV-Mtb",mode:"pseudo",density:densityMtb,colors:pseudoMtb,levels:levelDotsSparse,outliers:outliersMtb,traj:trajMtb,nodes:nodesMtb,
  x0:2660.9,xu:52,y0:3839,yu:51,left:2301,right:3124,top:3465,bottom:4192,titleY:3438,bar:{x:3160,max:17.3}});

panelLetter("A",8,62);
panelLetter("B",1660,106);
panelLetter("C",3,1344);
panelLetter("D",1652,1384);
panelLetter("E",8,2620);
panelLetter("F",1100,2620);
panelLetter("G",2184,2620);
</script>
</body>
</html>
